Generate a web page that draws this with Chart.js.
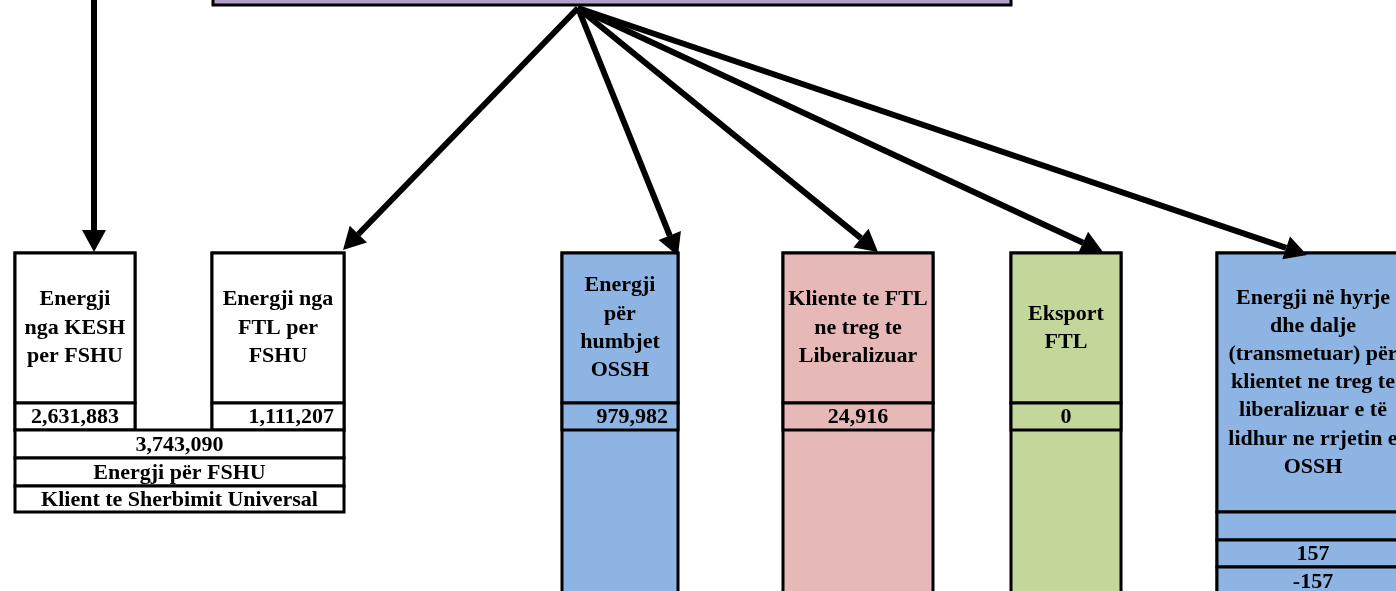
<!DOCTYPE html>
<html>
<head>
<meta charset="utf-8">
<script src="https://cdn.jsdelivr.net/npm/chart.js@4.4.1/dist/chart.umd.min.js"></script>
<style>
  html, body { margin: 0; padding: 0; background: #fff; }
  #wrap { width: 1396px; height: 591px; }
</style>
</head>
<body>
<div id="wrap"><canvas id="flow"></canvas></div>
<script>
// box titles (already split in lines, like the original sheet)
const categories = [
  ['Energji', 'nga KESH', 'per FSHU'],
  ['Energji nga', 'FTL per', 'FSHU'],
  ['Energji', 'për', 'humbjet', 'OSSH'],
  ['Kliente te FTL', 'ne treg te', 'Liberalizuar'],
  ['Eksport', 'FTL'],
  ['Energji në hyrje', 'dhe dalje', '(transmetuar) për', 'klientet ne treg te', 'liberalizuar e të', 'lidhur ne rrjetin e', 'OSSH']
];
const values = [2631883, 1111207, 979982, 24916, 0, null];
const transmitValues = [null, 157, -157];
const fshuTotal = [3743090];
const fshuLabels = ['Energji për FSHU', 'Klient te Sherbimit Universal'];

// layout of the sheet (pixels on the linear axes)
const boxes = [
  { x0: 15,   x1: 135,  y1: 430, fill: '#ffffff', align: 'center' },
  { x0: 212,  x1: 344,  y1: 430, fill: '#ffffff', align: 'right' },
  { x0: 562,  x1: 678,  y1: 600, fill: '#8DB4E2', align: 'right' },
  { x0: 783,  x1: 933,  y1: 600, fill: '#E6B8B7', align: 'center' },
  { x0: 1011, x1: 1121, y1: 600, fill: '#C4D79B', align: 'center' },
  { x0: 1217, x1: 1409, y1: 620, fill: '#8DB4E2', align: 'center' }
];
const boxTop = 253, titleBottom = 403, valueBottom = 430;
const arrowFrom = { x: 578, y: 8 };
const arrowTips = [null, [343, 250], [678, 256], [878, 252], [1103, 252], [1307, 255]];

const fmt = v => v.toLocaleString('en-US');
const FONT = 'bold 22px "Liberation Serif", "Times New Roman", serif';

function arrow(ctx, x0, y0, x1, y1) {
  const a = Math.atan2(y1 - y0, x1 - x0);
  const len = 22, half = 12;
  const bx = x1 - Math.cos(a) * len, by = y1 - Math.sin(a) * len;
  ctx.beginPath();
  ctx.moveTo(x0, y0);
  ctx.lineTo(bx, by);
  ctx.lineWidth = 6;
  ctx.strokeStyle = '#000';
  ctx.stroke();
  ctx.beginPath();
  ctx.moveTo(x1, y1);
  ctx.lineTo(bx + Math.sin(a) * half, by - Math.cos(a) * half);
  ctx.lineTo(bx - Math.sin(a) * half, by + Math.cos(a) * half);
  ctx.closePath();
  ctx.fillStyle = '#000';
  ctx.fill();
}

const diagram = {
  id: 'diagram',
  afterDatasetsDraw(chart) {
    const ctx = chart.ctx;
    const X = v => chart.scales.x.getPixelForValue(v);
    const Y = v => chart.scales.y.getPixelForValue(v);
    ctx.save();
    ctx.lineWidth = 3;
    ctx.strokeStyle = '#000';

    function cell(x0, y0, x1, y1, fill) {
      ctx.fillStyle = fill;
      ctx.fillRect(X(x0), Y(y0), X(x1) - X(x0), Y(y1) - Y(y0));
      ctx.strokeRect(X(x0), Y(y0), X(x1) - X(x0), Y(y1) - Y(y0));
    }
    function text(str, x, y) {
      ctx.fillStyle = '#000';
      ctx.font = FONT;
      ctx.textAlign = 'center';
      ctx.textBaseline = 'middle';
      ctx.fillText(str, X(x), Y(y));
    }

    // top purple box (only its bottom shows)
    cell(213, -20, 1011, 5, '#B1A0C7');

    boxes.forEach((b, i) => {
      const tBottom = i === 5 ? 512 : titleBottom;
      cell(b.x0, boxTop, b.x1, b.y1, b.fill);
      cell(b.x0, boxTop, b.x1, tBottom, b.fill);
      const lines = categories[i];
      const mid = (boxTop + tBottom) / 2;
      lines.forEach((ln, k) => {
        text(ln, (b.x0 + b.x1) / 2, mid + (k - (lines.length - 1) / 2) * 28.2);
      });
      if (values[i] !== null) {
        cell(b.x0, titleBottom, b.x1, valueBottom, b.fill);
        ctx.font = FONT;
        const w = ctx.measureText(fmt(values[i])).width;
        const vx = b.align === 'right' ? b.x1 - 10 - w / 2 : (b.x0 + b.x1) / 2;
        text(fmt(values[i]), vx, (titleBottom + valueBottom) / 2 + 1);
      }
    });

    // transmitted rows of last box
    const lb = boxes[5];
    const rows = [512, 540, 567, 595];
    transmitValues.forEach((v, k) => {
      cell(lb.x0, rows[k], lb.x1, rows[k + 1], lb.fill);
      if (v !== null) text(String(v), (lb.x0 + lb.x1) / 2, (rows[k] + rows[k + 1]) / 2 + 1);
    });

    // FSHU total rows
    const fx0 = boxes[0].x0, fx1 = boxes[1].x1;
    cell(fx0, 430, fx1, 458, '#fff');
    text(fmt(fshuTotal[0]), (fx0 + fx1) / 2, 445);
    cell(fx0, 458, fx1, 486, '#fff');
    text(fshuLabels[0], (fx0 + fx1) / 2, 473);
    cell(fx0, 486, fx1, 512, '#fff');
    text(fshuLabels[1], (fx0 + fx1) / 2, 500);

    // arrows
    arrow(ctx, X(94), Y(-10), X(94), Y(252));
    arrowTips.forEach(t => {
      if (t) arrow(ctx, X(arrowFrom.x), Y(arrowFrom.y), X(t[0]), Y(t[1]));
    });
    ctx.restore();
  }
};

new Chart(document.getElementById('flow'), {
  type: 'scatter',
  data: { datasets: [] },
  options: {
    responsive: true,
    maintainAspectRatio: false,
    animation: false,
    layout: { padding: 0 },
    plugins: { legend: { display: false }, tooltip: { enabled: false } },
    scales: {
      x: { type: 'linear', min: 0, max: 1396, display: false },
      y: { type: 'linear', min: 0, max: 591, reverse: true, display: false }
    }
  },
  plugins: [diagram]
});
</script>
</body>
</html>
